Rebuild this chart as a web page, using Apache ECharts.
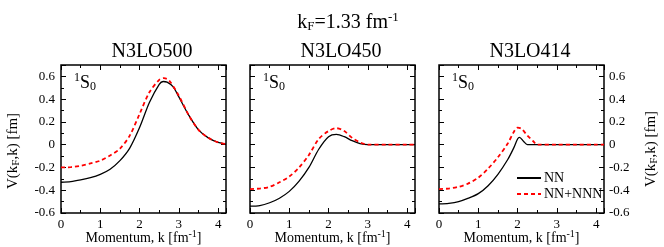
<!DOCTYPE html>
<html><head><meta charset="utf-8">
<script src="https://cdn.jsdelivr.net/npm/echarts@6/dist/echarts.min.js"></script>
<style>html,body{margin:0;padding:0;background:#fff}#c{width:664px;height:247px}</style>
</head><body><div id="c"></div>
<script>
// ---- data ----
const panelTitles = ['N3LO500', 'N3LO450', 'N3LO414'];
const seriesNames = ['NN', 'NN+NNN'];
const xTickLabels = ['0', '1', '2', '3', '4'];
const yTickLabels = ['-0.6', '-0.4', '-0.2', '0', '0.2', '0.4', '0.6'];

const k500 = [0, 0.25, 0.5, 0.75, 1, 1.25, 1.5, 1.75, 2, 2.25, 2.5, 2.6, 2.7, 2.85, 3, 3.25, 3.5, 3.75, 4, 4.2];
const nn500 = [-0.33, -0.325, -0.31, -0.29, -0.26, -0.215, -0.14, -0.03, 0.15, 0.37, 0.53, 0.555, 0.55, 0.51, 0.42, 0.26, 0.13, 0.06, 0.02, 0.005];
const k500b = [0, 0.25, 0.5, 0.75, 1, 1.25, 1.5, 1.75, 2, 2.25, 2.5, 2.62, 2.75, 3, 3.25, 3.5, 3.75, 4, 4.2];
const nnn500 = [-0.2, -0.197, -0.185, -0.165, -0.14, -0.095, -0.035, 0.08, 0.27, 0.46, 0.57, 0.585, 0.565, 0.43, 0.26, 0.13, 0.06, 0.02, 0.005];

const k450 = [0, 0.25, 0.5, 0.75, 1, 1.25, 1.5, 1.75, 2, 2.2, 2.4, 2.6, 2.8, 3, 3.5, 4, 4.2];
const nn450 = [-0.54, -0.535, -0.51, -0.47, -0.41, -0.32, -0.2, -0.04, 0.07, 0.09, 0.07, 0.035, 0.01, 0.0, 0.0, 0.0, 0.0];
const nnn450 = [-0.39, -0.385, -0.37, -0.33, -0.28, -0.2, -0.09, 0.05, 0.12, 0.145, 0.12, 0.06, 0.02, 0.0, 0.0, 0.0, 0.0];

const k414 = [0, 0.25, 0.5, 0.75, 1, 1.25, 1.5, 1.75, 1.9, 2, 2.05, 2.15, 2.25, 2.5, 3, 3.5, 4, 4.2];
const nn414 = [-0.52, -0.515, -0.5, -0.47, -0.43, -0.36, -0.26, -0.13, -0.03, 0.05, 0.065, 0.03, 0.0, 0.0, 0.0, 0.0, 0.0, 0.0];
const k414b = [0, 0.25, 0.5, 0.75, 1, 1.25, 1.5, 1.75, 1.9, 2, 2.1, 2.25, 2.4, 2.5, 3, 3.5, 4, 4.2];
const nnn414 = [-0.39, -0.385, -0.37, -0.34, -0.29, -0.21, -0.11, 0.01, 0.11, 0.15, 0.14, 0.08, 0.03, 0.0, 0.0, 0.0, 0.0, 0.0];

// ---- build ----
const FONT = '"Liberation Serif","DejaVu Serif",serif';
const zip = (xs, ys) => xs.map((x, i) => [x, ys[i]]);
const panels = [
  { nn: zip(k500, nn500), nnn: zip(k500b, nnn500) },
  { nn: zip(k450, nn450), nnn: zip(k450, nnn450) },
  { nn: zip(k414, nn414), nnn: zip(k414b, nnn414) }
];
const gridLefts = [61, 250, 439];
const gridW = 165, gridTop = 65, gridH = 148;

const grids = [], xAxes = [], yAxes = [], series = [];
const tickCommon = { axisTick: { show: true, inside: true, length: 5, lineStyle: { color: '#000', width: 1 } },
  minorTick: { show: true, splitNumber: 2, length: 3, lineStyle: { color: '#000', width: 1 } },
  splitLine: { show: false }, axisLine: { show: false, onZero: false } };

panels.forEach((p, i) => {
  grids.push({ left: gridLefts[i], top: gridTop, width: gridW, height: gridH, show: true,
    borderColor: '#000', borderWidth: 1.5, backgroundColor: 'transparent' });
  const xBase = { type: 'value', gridIndex: i, min: 0, max: 4.2, interval: 1, ...tickCommon };
  xAxes.push({ ...xBase, position: 'bottom',
    axisLabel: { show: true, margin: 5, color: '#000', fontFamily: FONT, fontSize: 13,
      formatter: v => { const s = String(Math.round(v * 1000) / 1000); return xTickLabels.includes(s) ? s : ''; } } });
  xAxes.push({ ...xBase, position: 'top', axisLabel: { show: false } });
  const yBase = { type: 'value', gridIndex: i, min: -0.6, max: 0.7, interval: 0.2, ...tickCommon };
  const yFmt = v => { let s = (Math.abs(v) < 1e-9) ? '0' : v.toFixed(1); return yTickLabels.includes(s) ? s : ''; };
  yAxes.push({ ...yBase, position: 'left', axisLabel: { show: i === 0, margin: 6, color: '#000', fontFamily: FONT, fontSize: 13, formatter: yFmt } });
  yAxes.push({ ...yBase, position: 'right', axisLabel: { show: i === 2, margin: 5, color: '#000', fontFamily: FONT, fontSize: 13, formatter: yFmt } });
  series.push({ name: seriesNames[0], type: 'line', xAxisIndex: 2 * i, yAxisIndex: 2 * i, data: p.nn,
    smooth: 0.3, showSymbol: false, symbol: 'none', lineStyle: { color: '#000', width: 1.3 }, itemStyle: { color: '#000' }, z: 3 });
  series.push({ name: seriesNames[1], type: 'line', xAxisIndex: 2 * i, yAxisIndex: 2 * i, data: p.nnn,
    smooth: 0.3, showSymbol: false, symbol: 'none', lineStyle: { color: '#ff0000', width: 1.8, type: [4, 3] }, itemStyle: { color: '#ff0000' }, z: 4 });
});

const sup = { fontSize: 12, fontFamily: FONT, padding: [0, 0, 10, 0] };
const sub = { fontSize: 12, fontFamily: FONT, padding: [8, 0, 0, 0] };
const graphics = [];
graphics.push({ type: 'text', style: {
  text: '{m|k}{s|F}{m|=1.33 fm}{p|-1}', x: 348, y: 23, align: 'center', verticalAlign: 'middle',
  rich: { m: { fontSize: 20, fontFamily: FONT, fill: '#000' }, s: { ...sub, fontSize: 13 }, p: { ...sup, fontSize: 13 } } } });
const titleCx = [152, 341, 530];
panelTitles.forEach((t, i) => {
  graphics.push({ type: 'text', style: { text: t, x: titleCx[i], y: 52, align: 'center', verticalAlign: 'middle',
    font: '20px ' + FONT, fill: '#000' } });
  graphics.push({ type: 'text', style: { text: '{p|1}{m|S}{s|0}', x: gridLefts[i] + 13, y: 83, align: 'left', verticalAlign: 'middle',
    rich: { m: { fontSize: 18, fontFamily: FONT }, p: { ...sup }, s: { ...sub } } } });
  graphics.push({ type: 'text', style: { text: '{m|Momentum, k [fm}{p|-1}{m|]}', x: gridLefts[i] + gridW / 2, y: 238, align: 'center', verticalAlign: 'middle',
    rich: { m: { fontSize: 14, fontFamily: FONT }, p: { ...sup, fontSize: 10, padding: [0, 0, 8, 0] } } } });
});
const yName = '{m|V(k}{s|F}{m|,k) [fm]}';
const yRich = { m: { fontSize: 15, fontFamily: FONT }, s: { ...sub, fontSize: 11, padding: [7, 0, 0, 0] } };
graphics.push({ type: 'text', x: 13, y: 151, rotation: Math.PI / 2, style: { text: yName, x: 0, y: 0, align: 'center', verticalAlign: 'middle', rich: yRich } });
graphics.push({ type: 'text', x: 651, y: 149, rotation: Math.PI / 2, style: { text: yName, x: 0, y: 0, align: 'center', verticalAlign: 'middle', rich: yRich } });

const chart = echarts.init(document.getElementById('c'), null, { renderer: 'canvas' });
chart.setOption({
  animation: false,
  backgroundColor: '#fff',
  grid: grids, xAxis: xAxes, yAxis: yAxes, series: series,
  legend: { data: seriesNames, orient: 'vertical', left: 511, top: 166, itemWidth: 24, itemHeight: 12, itemGap: 2,
    itemStyle: { opacity: 0 },
    textStyle: { fontFamily: FONT, fontSize: 14, color: '#000', padding: [0, 0, 0, -2] }, backgroundColor: 'transparent' },
  graphic: graphics
});
</script></body></html>
